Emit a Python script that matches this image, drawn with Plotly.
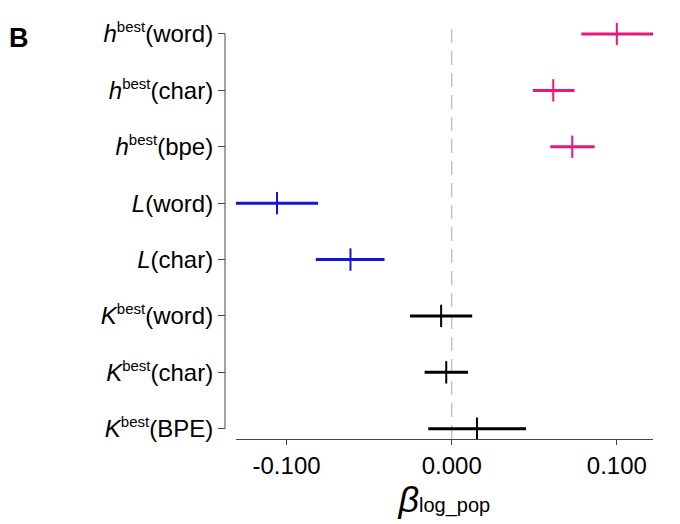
import plotly.graph_objects as go

# estimates of log_pop coefficient with interval, top row first
labels = [
    "<i>h</i><sup>best</sup>(word)",
    "<i>h</i><sup>best</sup>(char)",
    "<i>h</i><sup>best</sup>(bpe)",
    "<i>L</i>(word)",
    "<i>L</i>(char)",
    "<i>K</i><sup>best</sup>(word)",
    "<i>K</i><sup>best</sup>(char)",
    "<i>K</i><sup>best</sup>(BPE)",
]
estimate = [0.100, 0.0615, 0.073, -0.1058, -0.0613, -0.0064, -0.0033, 0.0153]
lower = [0.0785, 0.0492, 0.0597, -0.1308, -0.0823, -0.0253, -0.0164, -0.0142]
upper = [0.1219, 0.0744, 0.0866, -0.0809, -0.0407, 0.0124, 0.0099, 0.0450]
groups = ["h", "h", "h", "L", "L", "K", "K", "K"]

colors = {"h": "#e6177f", "L": "#1414d6", "K": "#000000"}

ypos = list(range(len(labels) - 1, -1, -1))

# smaller superscript like the original
labels = [s.replace("<sup>best</sup>", "<sup><span style='font-size:15px'>best</span></sup>")
          for s in labels]

fig = go.Figure()

for g in ["h", "L", "K"]:
    idx = [i for i, gg in enumerate(groups) if gg == g]
    fig.add_trace(go.Scatter(
        x=[estimate[i] for i in idx],
        y=[ypos[i] for i in idx],
        mode="markers",
        marker=dict(symbol="line-ns", size=16,
                    line=dict(width=2, color=colors[g])),
        error_x=dict(type="data", symmetric=False,
                     array=[upper[i] - estimate[i] for i in idx],
                     arrayminus=[estimate[i] - lower[i] for i in idx],
                     width=0, thickness=3, color=colors[g]),
        cliponaxis=False,
        showlegend=False,
    ))

# zero reference line
fig.add_shape(type="line", xref="x", yref="paper", x0=0, x1=0, y0=0, y1=0.988,
              line=dict(color="#c4c4c4", width=1.5, dash="14px,8px"), layer="below")

# y axis line only spans first to last row (base-R style)
fig.add_shape(type="line", xref="paper", yref="y", x0=0, x1=0,
              y0=min(ypos), y1=max(ypos), line=dict(color="#444", width=1))

font = "Liberation Sans, Arial, sans-serif"

fig.update_layout(
    width=672, height=516,
    margin=dict(l=217, r=27, t=10, b=85),
    plot_bgcolor="white", paper_bgcolor="white",
    font=dict(family=font, color="black", size=24),
    xaxis=dict(
        domain=[0.025, 1.0], range=[min(lower), max(upper)],
        anchor="free", position=0, automargin=False,
        tickvals=[-0.1, 0.0, 0.1], ticktext=["-0.100", "0.000", "0.100"],
        ticks="outside", ticklen=5, tickwidth=1, tickcolor="#444",
        showline=True, linecolor="#444", linewidth=1,
        showgrid=False, zeroline=False,
        tickfont=dict(size=24),
        title=dict(text="<i>β</i><span style='font-size:20px'>log_pop</span>",
                   font=dict(size=36), standoff=0),
    ),
    yaxis=dict(
        domain=[0.0044, 0.9821], range=[-0.15, 7.15],
        anchor="free", position=0, automargin=False,
        tickvals=ypos, ticktext=labels,
        ticks="outside", ticklen=7, tickwidth=1, tickcolor="#444",
        showline=False,
        showgrid=False, zeroline=False,
        tickfont=dict(size=24),
    ),
    annotations=[dict(text="<b>B</b>", xref="paper", yref="paper",
                      x=-0.509, y=0.952, xanchor="left", yanchor="middle",
                      showarrow=False, font=dict(size=27))],
)

fig.write_html("out.html")
